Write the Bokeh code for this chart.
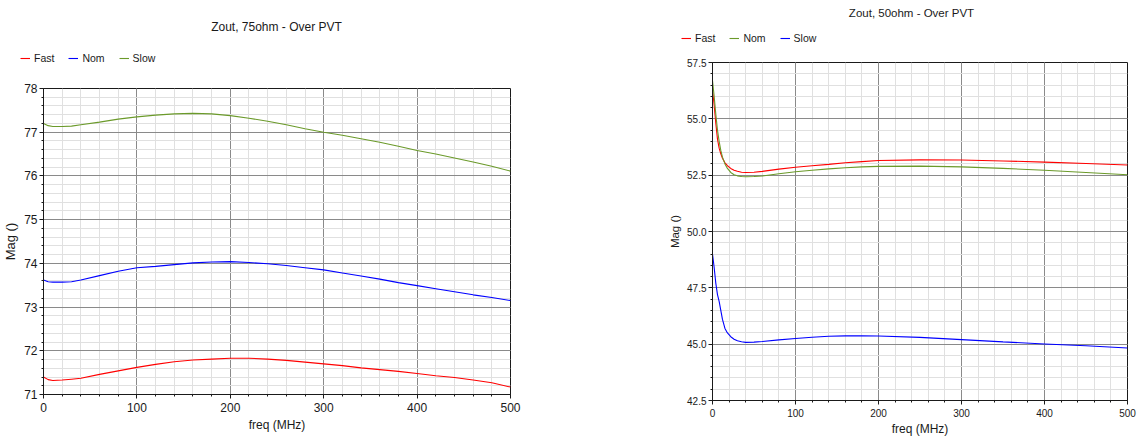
from bokeh.plotting import figure
from bokeh.layouts import row, column
from bokeh.models import FixedTicker, Legend, LegendItem, PrintfTickFormatter
from bokeh.embed import file_html
from bokeh.resources import INLINE

# ---------------- data: left chart (75 ohm) ----------------
freq_l = [0, 5, 10, 20, 30, 40, 60, 80, 100, 120, 140, 160, 180, 200, 220, 240,
          260, 280, 300, 320, 340, 360, 380, 400, 420, 440, 460, 480, 500]
fast_l = [71.40, 71.34, 71.32, 71.33, 71.35, 71.37, 71.46, 71.54, 71.62, 71.69, 71.75,
          71.79, 71.81, 71.83, 71.83, 71.81, 71.78, 71.74, 71.70, 71.66, 71.61, 71.57,
          71.53, 71.48, 71.43, 71.39, 71.33, 71.27, 71.17]
nom_l = [73.62, 73.58, 73.57, 73.57, 73.58, 73.62, 73.72, 73.82, 73.90, 73.93, 73.97,
         74.01, 74.03, 74.04, 74.02, 73.99, 73.95, 73.90, 73.85, 73.78, 73.71, 73.64,
         73.56, 73.49, 73.42, 73.35, 73.28, 73.22, 73.15]
slow_l = [77.20, 77.15, 77.13, 77.13, 77.14, 77.17, 77.23, 77.30, 77.35, 77.39, 77.42,
          77.43, 77.42, 77.38, 77.32, 77.25, 77.17, 77.08, 77.00, 76.93, 76.85, 76.77,
          76.68, 76.58, 76.50, 76.41, 76.32, 76.22, 76.11]

# ---------------- data: right chart (50 ohm) ----------------
freq_r = [0, 2, 4, 6, 8, 10, 12, 15, 18, 22, 26, 30, 35, 40, 50, 60, 80, 100, 120,
          140, 160, 180, 200, 250, 300, 350, 400, 450, 500]
fast_r = [56.3, 55.6, 54.8, 54.1, 53.7, 53.45, 53.25, 53.05, 52.92, 52.80, 52.72, 52.67,
          52.63, 52.62, 52.63, 52.67, 52.77, 52.85, 52.92, 52.98, 53.05, 53.10, 53.15,
          53.18, 53.17, 53.13, 53.08, 53.02, 52.95]
nom_r = [56.7, 56.0, 55.2, 54.5, 54.0, 53.6, 53.3, 53.0, 52.8, 52.62, 52.52, 52.47,
         52.44, 52.43, 52.44, 52.46, 52.56, 52.65, 52.72, 52.78, 52.83, 52.87, 52.89,
         52.90, 52.87, 52.80, 52.72, 52.62, 52.52]
slow_r = [49.0, 48.4, 47.7, 47.2, 46.9, 46.5, 46.1, 45.7, 45.5, 45.33, 45.22, 45.15,
          45.11, 45.08, 45.09, 45.12, 45.19, 45.25, 45.31, 45.35, 45.37, 45.37, 45.36,
          45.30, 45.20, 45.10, 45.01, 44.93, 44.83]

series_l = ["Fast", "Nom", "Slow"]
series_r = ["Fast", "Nom", "Slow"]

x_ticks = [0, 100, 200, 300, 400, 500]
x_minor = list(range(0, 501, 20))
yl_ticks = [71, 72, 73, 74, 75, 76, 77, 78]
yl_minor = [71 + i * 0.2 for i in range(36)]
yr_ticks = [42.5, 45.0, 47.5, 50.0, 52.5, 55.0, 57.5]
yr_minor = [42.5 + i * 0.5 for i in range(31)]

RED = "#ff0000"
BLUE = "#0000ff"
GREEN = "#6b9a2a"
FONT = "Liberation Sans"
INK = "#1a1a1a"


def style(p, xt, xm, yt, ym, tick_fs, label_fs):
    p.xaxis.ticker = FixedTicker(ticks=xt, minor_ticks=xm)
    p.yaxis.ticker = FixedTicker(ticks=yt, minor_ticks=ym)
    p.outline_line_color = INK
    p.outline_line_width = 1
    for ax in (p.xaxis, p.yaxis):
        ax.axis_line_color = INK
        ax.major_tick_line_color = INK
        ax.minor_tick_line_color = INK
        ax.major_tick_out = 4
        ax.major_tick_in = 0
        ax.minor_tick_out = 2
        ax.minor_tick_in = 0
        ax.major_label_text_font = FONT
        ax.major_label_text_font_size = tick_fs
        ax.major_label_text_color = INK
        ax.axis_label_text_font = FONT
        ax.axis_label_text_font_size = label_fs
        ax.axis_label_text_font_style = "normal"
        ax.axis_label_text_color = INK
    p.xaxis.major_label_standoff = 4
    p.yaxis.major_label_standoff = 2
    p.xgrid.grid_line_color = "#8a8a8a"
    p.ygrid.grid_line_color = "#8a8a8a"
    p.xgrid.minor_grid_line_color = "#e0e0e0"
    p.ygrid.minor_grid_line_color = "#e0e0e0"
    p.xaxis.axis_label = "freq (MHz)"
    p.yaxis.axis_label = "Mag ()"


def header(width, height, title, title_fs, top, left, right,
           labels, colors, xs, ys_list, leg_xy):
    # strip above a chart holding its title and its legend
    h = figure(width=width, height=height, x_range=(0, 1), y_range=(0, 1),
               x_axis_location=None, y_axis_location=None,
               output_backend="svg", toolbar_location=None,
               min_border_left=left, min_border_right=right, min_border_top=top,
               min_border_bottom=0, title=title)
    h.outline_line_color = None
    h.grid.visible = False
    h.title.text_font = FONT
    h.title.text_font_style = "normal"
    h.title.text_font_size = title_fs
    h.title.text_color = INK
    h.title.align = "center"
    h.title.standoff = 0
    items = []
    for lab, col, ys in zip(labels, colors, ys_list):
        # legend proxy: the series itself, which lies outside this strip's ranges
        proxy = h.line(xs, ys, line_color=col, line_width=1.1)
        items.append(LegendItem(label=lab, renderers=[proxy]))
    leg = Legend(items=items, orientation="horizontal", location=leg_xy,
                 glyph_width=10, glyph_height=10, label_standoff=4, spacing=14,
                 padding=0, margin=0, background_fill_alpha=0, border_line_alpha=0,
                 label_text_font=FONT, label_text_font_size="10.5px",
                 label_text_color=INK)
    h.add_layout(leg, "center")
    return h


# ---------------- left chart ----------------
h1 = header(640, 72, "Zout, 75ohm - Over PVT", "12px", 33, 0, 88,
            series_l, [RED, BLUE, GREEN], freq_l, [fast_l, nom_l, slow_l], (20, 8))
p1 = figure(width=640, height=366, x_range=(0, 500), y_range=(71, 78),
            output_backend="svg", toolbar_location=None,
            min_border_left=40, min_border_right=130, min_border_top=16, min_border_bottom=44)
style(p1, x_ticks, x_minor, yl_ticks, yl_minor, "12px", "12px")
p1.yaxis.axis_label_text_font_size = "13px"
p1.xaxis.axis_label_standoff = 3
p1.yaxis.axis_label_standoff = 3
p1.line(freq_l, fast_l, line_color=RED, line_width=1.1)
p1.line(freq_l, nom_l, line_color=BLUE, line_width=1.1)
p1.line(freq_l, slow_l, line_color=GREEN, line_width=1.1)

# ---------------- right chart ----------------
h2 = header(501, 50, "Zout, 50ohm - Over PVT", "11.5px", 18, 41, 0,
            series_r, [RED, GREEN, BLUE], freq_r, [fast_r, nom_r, slow_r], (0, 6))
p2 = figure(width=501, height=388, x_range=(0, 500), y_range=(42.5, 57.5),
            output_backend="svg", toolbar_location=None,
            min_border_left=72, min_border_right=14, min_border_top=12, min_border_bottom=36)
style(p2, x_ticks, x_minor, yr_ticks, yr_minor, "10px", "12px")
p2.yaxis.axis_label_text_font_size = "11.5px"
p2.yaxis.formatter = PrintfTickFormatter(format="%.1f")
p2.xaxis.axis_label_standoff = 2
p2.yaxis.axis_label_standoff = 3
p2.line(freq_r, fast_r, line_color=RED, line_width=1.1)
p2.line(freq_r, nom_r, line_color=GREEN, line_width=1.1)
p2.line(freq_r, slow_r, line_color=BLUE, line_width=1.1)

layout = row(column(column(h1), column(p1)), column(column(h2), column(p2)))
open("out.html", "w").write(file_html(layout, INLINE))
